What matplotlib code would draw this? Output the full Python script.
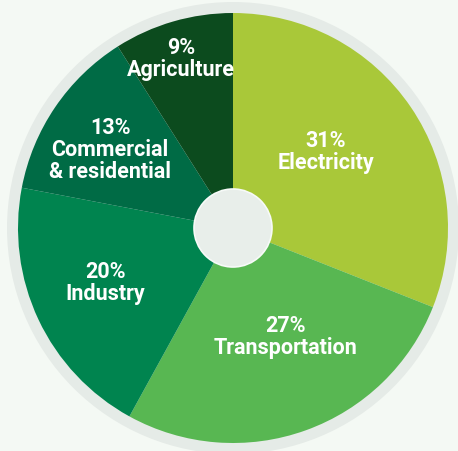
import matplotlib.pyplot as plt
from matplotlib.patches import Circle

# Share of emissions by sector
sectors = ["Electricity", "Transportation", "Industry",
           "Commercial\n& residential", "Agriculture"]
shares = [31, 27, 20, 13, 9]
colors = ["#a9c839", "#58b752", "#00844f", "#006b45", "#0c4b1e"]

# label anchor points (pixel-style coordinates, y measured from the top)
label_xy = [(326, 152), (286, 337), (105, 283), (110, 150), (181, 59)]

W, H = 458, 451
cx, cy, r = 233, H - 228, 215

fig = plt.figure(figsize=(W / 100, H / 100), dpi=100)
fig.patch.set_facecolor("#f4f9f4")
ax = fig.add_axes([0, 0, 1, 1])

# pale outer ring
ax.add_patch(Circle((cx, cy), 226, facecolor="#e5ebe7", edgecolor="none", zorder=0))

ax.pie(shares, colors=colors, startangle=90, counterclock=False,
       center=(cx, cy), radius=r, frame=True,
       wedgeprops=dict(linewidth=0, zorder=1))
ax.set_xlim(0, W)
ax.set_ylim(0, H)
ax.set_aspect("equal")
ax.axis("off")

# center hub
ax.add_patch(Circle((cx, cy), 39, facecolor="#e8eeea", edgecolor="#f7faf8",
                    linewidth=1.2, zorder=3))

for name, v, (x, y) in zip(sectors, shares, label_xy):
    ax.text(x, H - y, f"{v}%\n{name}", ha="center", va="center",
            color="white", fontsize=15.5, fontweight="bold",
            family="Roboto", linespacing=0.98, zorder=4)

fig.savefig("out.png", dpi=100, facecolor=fig.get_facecolor())
